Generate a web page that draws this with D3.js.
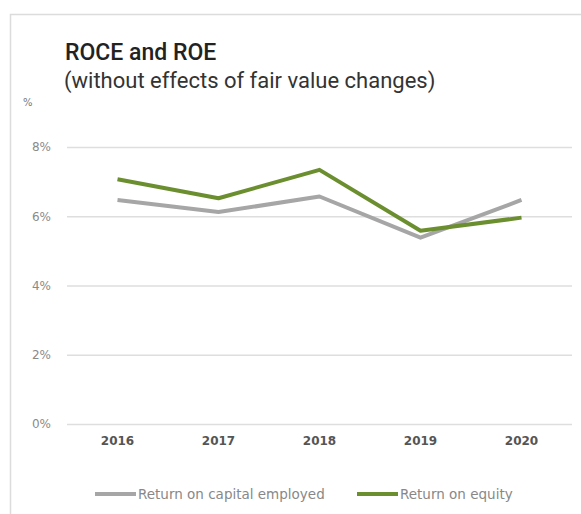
<!DOCTYPE html>
<html lang="en">
<head>
    <meta charset="utf-8">
    <script type="text/javascript" src="https://cdn.jsdelivr.net/npm/d3@7"></script>
    <style type="text/css">
        body { margin: 0; background: #fff; }
        text { font-family: "DejaVu Sans", sans-serif; }
        .head { font-family: Roboto, "Liberation Sans", sans-serif; }
    </style>
</head>
<body>
<script>
    var years = ['2016', '2017', '2018', '2019', '2020'];
    var roce = [6.47, 6.12, 6.57, 5.38, 6.47];
    var roe = [7.07, 6.52, 7.34, 5.58, 5.96];
    var yTicks = [0, 2, 4, 6, 8];
    var seriesNames = ['Return on capital employed', 'Return on equity'];
    var seriesColors = ['#a6a6a6', '#6b8e2f'];

    var width = 581, height = 514;

    var svg = d3.select('body')
            .append('svg')
            .attr('width', width)
            .attr('height', height);

    // frame
    svg.append('path')
            .attr('d', 'M10.5,' + height + 'V14.5H' + width)
            .attr('fill', 'none')
            .attr('stroke', '#dcdcdc')
            .attr('stroke-width', 1.5);

    svg.append('text')
            .attr('class', 'head')
            .attr('x', 65)
            .attr('y', 60)
            .attr('font-size', 23)
            .attr('font-weight', 500)
            .attr('fill', '#222')
            .text('ROCE and ROE');

    svg.append('text')
            .attr('class', 'head')
            .attr('x', 64)
            .attr('y', 88)
            .attr('font-size', 22)
            .attr('fill', '#333')
            .text('(without effects of fair value changes)');

    svg.append('text')
            .attr('x', 23)
            .attr('y', 106)
            .attr('font-size', 10)
            .attr('fill', '#777')
            .text('%');

    var x = d3.scaleBand()
            .domain(years)
            .range([67, 572]);

    var y = d3.scaleLinear()
            .domain([0, 8])
            .range([424, 147]);

    var yAxis = svg.append('g')
            .attr('transform', 'translate(67,0)')
            .call(d3.axisLeft(y)
                    .tickValues(yTicks)
                    .tickSize(-505)
                    .tickPadding(16)
                    .tickFormat(function (d) { return d + '%'; }));
    yAxis.select('.domain').remove();
    yAxis.selectAll('.tick line')
            .attr('stroke', '#dedede')
            .attr('stroke-width', 1.5);
    yAxis.selectAll('.tick text')
            .attr('font-size', 12)
            .attr('fill', '#8a8a8a')
            .style('font-family', '"DejaVu Sans", sans-serif');

    var xAxis = svg.append('g')
            .attr('transform', 'translate(0,424)')
            .call(d3.axisBottom(x).tickSize(0).tickPadding(12));
    xAxis.select('.domain').remove();
    xAxis.selectAll('.tick text')
            .attr('font-size', 12)
            .attr('font-weight', 'bold')
            .attr('fill', '#555')
            .style('font-family', '"DejaVu Sans", sans-serif');

    var line = d3.line()
            .x(function (d, i) { return x(years[i]) + x.bandwidth() / 2; })
            .y(function (d) { return y(d); });

    [roce, roe].forEach(function (vals, k) {
        svg.append('path')
                .datum(vals)
                .attr('d', line)
                .attr('fill', 'none')
                .attr('stroke', seriesColors[k])
                .attr('stroke-width', 4)
                .attr('stroke-linejoin', 'round');
    });

    var legendX = [95, 357];
    var legend = svg.selectAll('.legend')
            .data(seriesNames)
            .enter()
            .append('g')
            .attr('transform', function (d, i) {
                return 'translate(' + legendX[i] + ',494)';
            });
    legend.append('line')
            .attr('x1', 0)
            .attr('x2', 41)
            .attr('stroke', function (d, i) { return seriesColors[i]; })
            .attr('stroke-width', 4);
    legend.append('text')
            .attr('x', 43)
            .attr('y', 5)
            .attr('font-size', 13.5)
            .attr('fill', '#888')
            .text(function (d) { return d; });
</script>
</body>
</html>
